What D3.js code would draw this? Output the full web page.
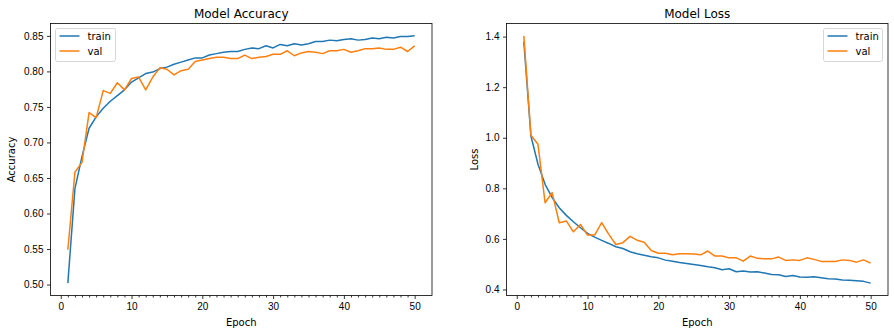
<!doctype html>
<html>
<head>
<meta charset="utf-8">
<script src="https://cdn.jsdelivr.net/npm/d3@7"></script>
<style>
html, body { margin: 0; background: #fff; overflow: hidden; }
svg { display: block; font-family: "DejaVu Sans", sans-serif; }
.tick text { font-size: 10px; fill: #000; }
.domain { stroke: #000; stroke-width: 0.8; }
.tick line { stroke: #000; stroke-width: 0.8; }
</style>
</head>
<body>
<script>
var epochs = d3.range(1, 51);

var trainAcc = [0.502, 0.635, 0.680, 0.720, 0.736, 0.748, 0.758, 0.766, 0.774, 0.785,
                0.791, 0.797, 0.799, 0.804, 0.806, 0.810, 0.813, 0.816, 0.819, 0.819,
                0.823, 0.825, 0.827, 0.828, 0.828, 0.831, 0.833, 0.832, 0.836, 0.833,
                0.838, 0.836, 0.839, 0.837, 0.839, 0.842, 0.842, 0.844, 0.843, 0.845,
                0.846, 0.844, 0.845, 0.847, 0.846, 0.848, 0.847, 0.849, 0.849, 0.850];
var valAcc = [0.549, 0.658, 0.672, 0.742, 0.735, 0.773, 0.769, 0.784, 0.774, 0.790,
              0.792, 0.774, 0.792, 0.805, 0.803, 0.795, 0.801, 0.803, 0.814, 0.816,
              0.818, 0.820, 0.820, 0.818, 0.818, 0.823, 0.818, 0.820, 0.821, 0.824,
              0.824, 0.829, 0.822, 0.826, 0.828, 0.827, 0.825, 0.829, 0.829, 0.831,
              0.827, 0.829, 0.832, 0.832, 0.833, 0.831, 0.831, 0.834, 0.828, 0.836];

var trainLoss = [1.380, 1.007, 0.895, 0.816, 0.763, 0.723, 0.693, 0.668, 0.644, 0.622,
                 0.607, 0.594, 0.582, 0.569, 0.562, 0.549, 0.541, 0.535, 0.529, 0.525,
                 0.516, 0.512, 0.507, 0.503, 0.499, 0.495, 0.490, 0.486, 0.478, 0.482,
                 0.470, 0.473, 0.469, 0.470, 0.465, 0.459, 0.458, 0.451, 0.455, 0.449,
                 0.448, 0.450, 0.446, 0.442, 0.441, 0.437, 0.436, 0.434, 0.432, 0.425];
var valLoss = [1.403, 1.010, 0.974, 0.743, 0.783, 0.664, 0.671, 0.628, 0.657, 0.615,
               0.615, 0.664, 0.618, 0.578, 0.585, 0.610, 0.595, 0.587, 0.554, 0.543,
               0.543, 0.537, 0.541, 0.541, 0.540, 0.537, 0.552, 0.532, 0.532, 0.525,
               0.525, 0.512, 0.532, 0.523, 0.521, 0.521, 0.528, 0.515, 0.517, 0.515,
               0.525, 0.519, 0.511, 0.511, 0.511, 0.517, 0.515, 0.508, 0.517, 0.504];

var xTicks = [0, 10, 20, 30, 40, 50];
var accTicks = [0.50, 0.55, 0.60, 0.65, 0.70, 0.75, 0.80, 0.85];
var lossTicks = [0.4, 0.6, 0.8, 1.0, 1.2, 1.4];
var seriesNames = ["train", "val"];
var colors = ["#1f77b4", "#ff7f0e"];

var W = 894, H = 333;
var svg = d3.select("body").append("svg").attr("width", W).attr("height", H);

// matplotlib style 5% margins
function padded(vals) {
  var e = d3.extent(vals), p = (e[1] - e[0]) * 0.05;
  return [e[0] - p, e[1] + p];
}

function panel(opts) {
  var left = opts.left, top = 23.5, w = 381.5, h = 272;
  var g = svg.append("g").attr("transform", "translate(" + left + "," + top + ")");

  var x = d3.scaleLinear().domain(padded(epochs)).range([0, w]);
  var y = d3.scaleLinear().domain(padded(opts.series[0].concat(opts.series[1]))).range([h, 0]);

  // minor ticks every epoch
  g.append("g").attr("transform", "translate(0," + h + ")")
    .call(d3.axisBottom(x).tickValues(epochs.filter(function(e){ return e % 10 !== 0; }))
      .tickSize(2).tickFormat(""))
    .call(function(a){ a.select(".domain").remove(); });

  g.append("g").attr("transform", "translate(0," + h + ")")
    .call(d3.axisBottom(x).tickValues(xTicks).tickSize(3.5).tickPadding(3.5)
      .tickFormat(d3.format("d")))
    .call(function(a){ a.select(".domain").remove(); });

  g.append("g")
    .call(d3.axisLeft(y).tickValues(opts.yTicks).tickSize(3.5).tickPadding(3.5)
      .tickFormat(d3.format(opts.yFmt)))
    .call(function(a){ a.select(".domain").remove(); });

  var line = d3.line().x(function(d, i){ return x(epochs[i]); }).y(function(d){ return y(d); });
  opts.series.forEach(function(s, i) {
    g.append("path").datum(s)
      .attr("fill", "none").attr("stroke", colors[i]).attr("stroke-width", 1.5)
      .attr("stroke-linejoin", "round").attr("d", line);
  });

  g.append("rect").attr("width", w).attr("height", h)
    .attr("fill", "none").attr("stroke", "#000").attr("stroke-width", 0.8);

  g.append("text").attr("x", w / 2).attr("y", -6).attr("text-anchor", "middle")
    .style("font-size", "12px").text(opts.title);
  g.append("text").attr("x", w / 2).attr("y", h + 30).attr("text-anchor", "middle")
    .style("font-size", "10px").text("Epoch");
  g.append("text").attr("transform", "translate(" + opts.yLabelX + "," + (h / 2) + ") rotate(-90)")
    .attr("text-anchor", "middle").style("font-size", "10px").text(opts.yLabel);

  // legend
  var lg = g.append("g").attr("transform", "translate(" + opts.legendX + ",5)");
  lg.append("rect").attr("width", opts.legendW).attr("height", 33).attr("rx", 2)
    .attr("fill", "#fff").attr("fill-opacity", 0.8).attr("stroke", "#ccc").attr("stroke-width", 0.8);
  seriesNames.forEach(function(n, i) {
    var yy = 7.5 + i * 15;
    lg.append("line").attr("x1", 4).attr("x2", 24).attr("y1", yy).attr("y2", yy)
      .attr("stroke", colors[i]).attr("stroke-width", 1.5);
    lg.append("text").attr("x", 32).attr("y", yy + 3.5).style("font-size", "10px").text(n);
  });
}

panel({ left: 50.5, title: "Model Accuracy", yLabel: "Accuracy", yLabelX: -36,
        series: [trainAcc, valAcc], yTicks: accTicks, yFmt: ".2f", legendX: 5, legendW: 60 });
panel({ left: 506.5, title: "Model Loss", yLabel: "Loss", yLabelX: -29,
        series: [trainLoss, valLoss], yTicks: lossTicks, yFmt: ".1f", legendX: 317, legendW: 59 });
</script>
</body>
</html>
